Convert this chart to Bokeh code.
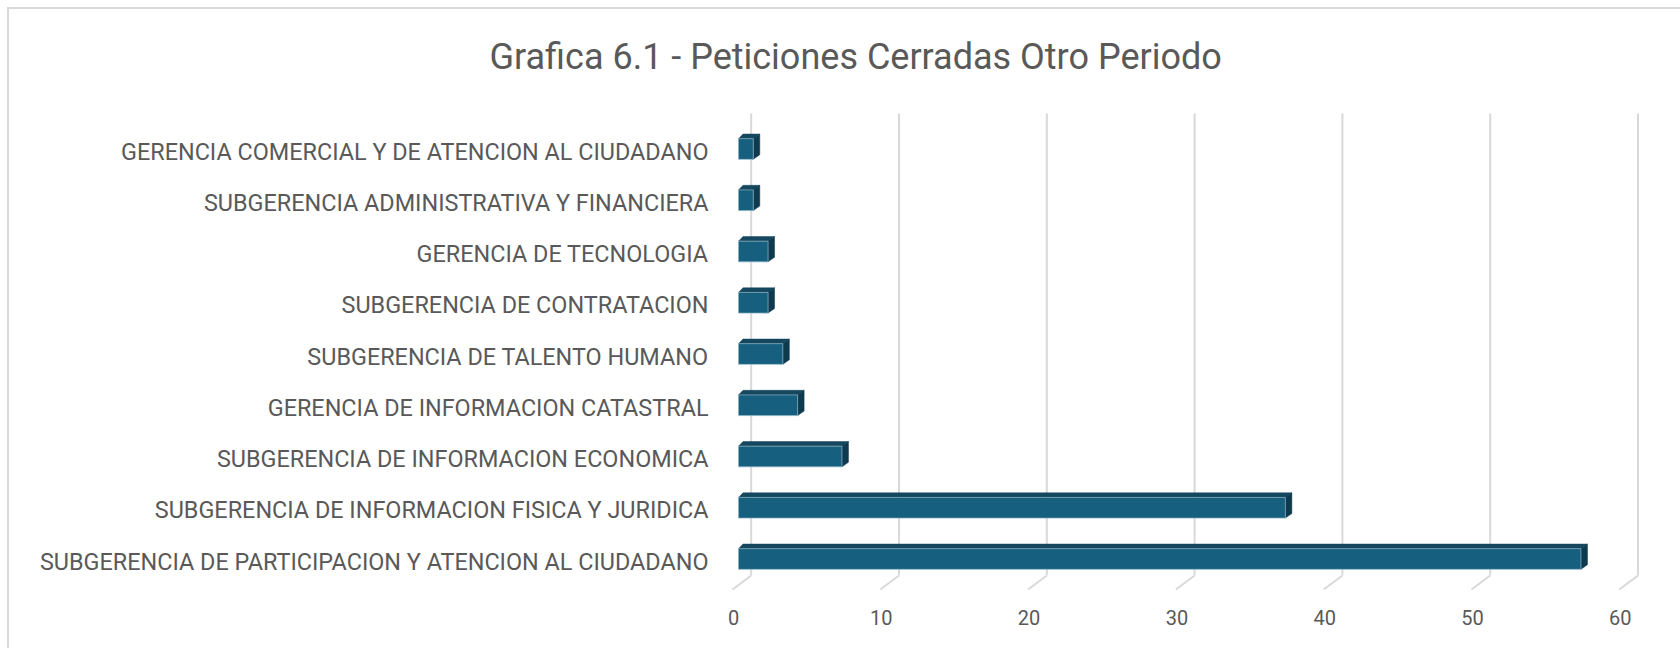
import numpy as np
from bokeh.plotting import figure
from bokeh.models import Range1d, LinearAxis, FixedTicker, ColumnDataSource
from bokeh.embed import file_html
from bokeh.resources import INLINE

# ---------------- data ----------------
title_text = "Grafica 6.1 - Peticiones Cerradas Otro Periodo"
categories = [  # bottom to top
    "SUBGERENCIA DE PARTICIPACION Y ATENCION AL CIUDADANO",
    "SUBGERENCIA DE INFORMACION FISICA Y JURIDICA",
    "SUBGERENCIA DE INFORMACION ECONOMICA",
    "GERENCIA DE INFORMACION CATASTRAL",
    "SUBGERENCIA DE TALENTO HUMANO",
    "SUBGERENCIA DE CONTRATACION",
    "GERENCIA DE TECNOLOGIA",
    "SUBGERENCIA ADMINISTRATIVA Y FINANCIERA",
    "GERENCIA COMERCIAL Y DE ATENCION AL CIUDADANO",
]
values = [57, 37, 7, 4, 3, 2, 2, 1, 1]
x_ticks = [0, 10, 20, 30, 40, 50, 60]

# ---------------- layout / style constants (pixels) ----------------
W, H = 1680, 648
FRAME_L, FRAME_R = 725, 1660
FRAME_T, FRAME_B = 110, 592
PX_X = 14.78          # px per value unit
ZERO_X = 738          # canvas x of value 0 (bar front face)
PX_Y = 51.25          # px per category
CAT0_Y = 561          # canvas y of bottom category centre

TEXT = "#595959"
GRID = "#d9d9d9"
FRONT = "#175F7F"
TOP = "#15475E"
SIDE = "#0E3A4F"
EDGE = "#8fb3c4"

x_start = (FRAME_L - ZERO_X) / PX_X
x_end = x_start + (FRAME_R - FRAME_L) / PX_X
y_start = (CAT0_Y - FRAME_B) / PX_Y
y_end = (CAT0_Y - FRAME_T) / PX_Y

# 3D offsets converted to data units
BACK_DX = 12.7 / PX_X
FRONT_DX = -6.0 / PX_X
LABEL_DX = -5.0 / PX_X
GRID_TOP = (CAT0_Y - 113) / PX_Y
GRID_BACK_BOT = (CAT0_Y - 575) / PX_Y
GRID_FRONT_BOT = (CAT0_Y - 589) / PX_Y
BAR_H = 20.7 / PX_Y
BAR_OFF = 2.5 / PX_Y
DXL = 4.5 / PX_X
DXR = 6.5 / PX_X
DZ = 4.6 / PX_Y

p = figure(width=W, height=H, output_backend="svg", toolbar_location=None,
           x_range=Range1d(x_start, x_end), y_range=Range1d(y_start, y_end),
           x_axis_location=None, min_border_left=FRAME_L, min_border_right=W - FRAME_R,
           min_border_top=FRAME_T, min_border_bottom=H - FRAME_B)
p.outline_line_color = None
p.xgrid.visible = False
p.ygrid.visible = False
p.background_fill_color = "white"
p.border_fill_color = None
# chart-area border: left and top edges (right/bottom fall outside the picture)
p.styles = {
    "background": ("linear-gradient(#d9d9d9, #d9d9d9) 7px 7px / 2px 100% no-repeat, "
                   "linear-gradient(#d9d9d9, #d9d9d9) 7px 7px / 100% 2px no-repeat, white"),
}

# title
p.title.text = title_text
p.title.align = "left"
p.title.offset = -236
p.title.text_font = "Roboto"
p.title.text_font_size = "36px"
p.title.text_font_style = "normal"
p.title.text_color = TEXT
p.title.standoff = 66

# x axis on a "front" range (labels sit on the front floor edge)
p.extra_x_ranges = {"front": Range1d(x_start - LABEL_DX, x_end - LABEL_DX)}
xa = LinearAxis(x_range_name="front", ticker=FixedTicker(ticks=x_ticks))
xa.axis_line_color = None
xa.major_tick_line_color = None
xa.minor_tick_line_color = None
xa.major_tick_out = 0
xa.major_tick_in = 0
xa.major_label_standoff = 17
xa.major_label_text_font = "Roboto"
xa.major_label_text_font_size = "20px"
xa.major_label_text_color = TEXT
p.add_layout(xa, "below")

# y axis with category labels
idx = list(range(len(categories)))
ya = p.yaxis[0]
ya.ticker = FixedTicker(ticks=idx)
ya.major_label_overrides = {i: c for i, c in zip(idx, categories)}
ya.axis_line_color = None
ya.major_tick_line_color = None
ya.minor_tick_line_color = None
ya.major_tick_out = 0
ya.major_tick_in = 0
ya.major_label_standoff = 17
ya.major_label_text_font = "Roboto"
ya.major_label_text_font_size = "23.4px"
ya.major_label_text_color = TEXT

# gridlines (back wall + floor edge)
gt = np.array(x_ticks, dtype=float)
p.segment(x0=gt + BACK_DX, y0=[GRID_TOP] * len(gt), x1=gt + BACK_DX, y1=[GRID_BACK_BOT] * len(gt),
          line_color=GRID, line_width=2)
p.segment(x0=gt + BACK_DX, y0=[GRID_BACK_BOT] * len(gt), x1=gt + FRONT_DX, y1=[GRID_FRONT_BOT] * len(gt),
          line_color=GRID, line_width=2)

# bars (3D look)
v = np.array(values, dtype=float)
yc = np.array(idx, dtype=float) + BAR_OFF
bot = yc - BAR_H / 2
top = yc + BAR_H / 2

top_xs = [[0, DXL, vi + DXR, vi] for vi in v]
top_ys = [[t, t + DZ, t + DZ, t] for t in top]
side_xs = [[vi, vi + DXR, vi + DXR, vi] for vi in v]
side_ys = [[b, b + DZ, t + DZ, t] for b, t in zip(bot, top)]

p.patches(xs=top_xs, ys=top_ys, fill_color=TOP, line_color=TOP, line_width=0.5)
p.patches(xs=side_xs, ys=side_ys, fill_color=SIDE, line_color=SIDE, line_width=0.5)
src = ColumnDataSource(dict(left=np.zeros_like(v), right=v, bottom=bot, top=top))
p.quad(left="left", right="right", bottom="bottom", top="top", source=src,
       fill_color=FRONT, line_color=EDGE, line_width=1, line_alpha=0.7)

open("out.html", "w").write(file_html(p, INLINE))
